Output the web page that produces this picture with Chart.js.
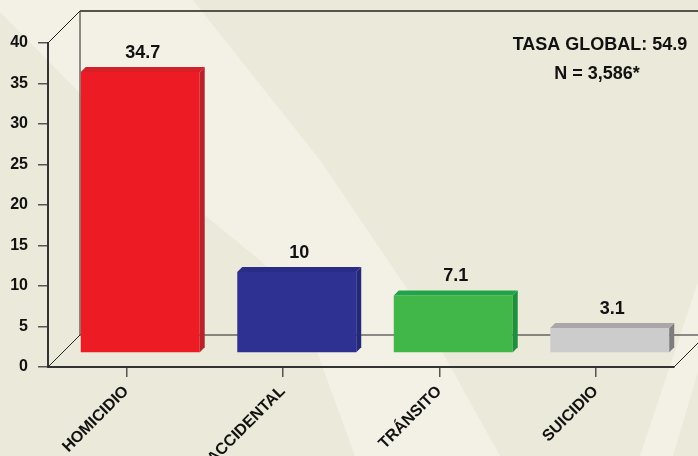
<!DOCTYPE html>
<html>
<head>
<meta charset="utf-8">
<script src="https://cdn.jsdelivr.net/npm/chart.js@4.4.0/dist/chart.umd.min.js"></script>
<style>
  html, body { margin: 0; padding: 0; background: #ebe9d9; }
  #wrap { width: 698px; height: 456px; }
</style>
</head>
<body>
<div id="wrap"><canvas id="barChart"></canvas></div>
<script>
// data
const categories = ['HOMICIDIO', 'ACCIDENTAL', 'TRÁNSITO', 'SUICIDIO'];
const rates = [34.7, 10, 7.1, 3.1];
const yMin = 0, yMax = 40, yStep = 5;
const noteLines = ['TASA GLOBAL: 54.9', 'N = 3,586*'];

// bar colours: front, side, top
const frontColors = ['#ed1c24', '#2e3192', '#41b649', '#cccccc'];
const sideColors = ['#b8232b', '#24287a', '#1f8f3c', '#7d7d7d'];
const topColors = ['#d42029', '#2a2d87', '#22a347', '#a8a8a8'];

const FONT = '"Liberation Sans", Arial, sans-serif';
const DEPTH = 32;      // depth of the 3d box
const SHIFT = 14;      // bars sit in the middle of the box
const BEVEL = 5;       // depth of each bar

const scenePlugin = {
  id: 'scene',
  beforeDraw(chart) {
    const ctx = chart.ctx;
    const w = chart.width, h = chart.height;
    ctx.save();
    ctx.fillStyle = '#ebe9d9';
    ctx.fillRect(0, 0, w, h);
    // light sweeping bands
    ctx.fillStyle = '#f3f1e6';
    ctx.beginPath();
    ctx.moveTo(0, 0);
    ctx.lineTo(193, 0);
    ctx.lineTo(320, 160);
    ctx.lineTo(408, 290);
    ctx.lineTo(500, 456);
    ctx.lineTo(355, 456);
    ctx.lineTo(300, 305);
    ctx.lineTo(262, 262);
    ctx.lineTo(180, 195);
    ctx.lineTo(0, 12);
    ctx.closePath();
    ctx.fill();
    ctx.beginPath();
    ctx.moveTo(640, 456);
    ctx.lineTo(698, 282);
    ctx.lineTo(698, 372);
    ctx.lineTo(673, 456);
    ctx.closePath();
    ctx.fill();
    ctx.restore();
  },
  beforeDatasetsDraw(chart) {
    const ctx = chart.ctx;
    const a = chart.chartArea;
    const w = chart.width;
    ctx.save();
    ctx.strokeStyle = '#222';
    ctx.lineWidth = 1;
    ctx.beginPath();
    ctx.moveTo(a.left, a.top); ctx.lineTo(a.left + DEPTH, a.top - DEPTH);
    ctx.moveTo(a.left, a.bottom); ctx.lineTo(a.left + DEPTH, a.bottom - DEPTH);
    ctx.moveTo(a.left + DEPTH, a.top - DEPTH); ctx.lineTo(a.left + DEPTH, a.bottom - DEPTH);
    ctx.moveTo(a.left + DEPTH, a.bottom - DEPTH); ctx.lineTo(w, a.bottom - DEPTH);
    ctx.moveTo(a.right, a.bottom); ctx.lineTo(a.right + DEPTH, a.bottom - DEPTH);
    ctx.stroke();
    ctx.strokeStyle = '#55554d';
    ctx.lineWidth = 2;
    ctx.beginPath();
    ctx.moveTo(a.left + DEPTH, a.top - DEPTH); ctx.lineTo(w, a.top - DEPTH);
    ctx.stroke();
    ctx.restore();
    // push bars back into the box
    ctx.save();
    ctx.translate(SHIFT, -SHIFT);
  },
  afterDatasetsDraw(chart) {
    const ctx = chart.ctx;
    ctx.restore();
    const meta = chart.getDatasetMeta(0);
    ctx.save();
    meta.data.forEach((bar, i) => {
      const l = bar.x - bar.width / 2 + SHIFT;
      const r = bar.x + bar.width / 2 + SHIFT;
      const t = bar.y - SHIFT;
      const b = bar.base - SHIFT;
      // side face
      ctx.fillStyle = sideColors[i];
      ctx.beginPath();
      ctx.moveTo(r, t); ctx.lineTo(r + BEVEL, t - BEVEL);
      ctx.lineTo(r + BEVEL, b - BEVEL); ctx.lineTo(r, b);
      ctx.closePath(); ctx.fill();
      // top face
      ctx.fillStyle = topColors[i];
      ctx.beginPath();
      ctx.moveTo(l, t); ctx.lineTo(l + BEVEL, t - BEVEL);
      ctx.lineTo(r + BEVEL, t - BEVEL); ctx.lineTo(r, t);
      ctx.closePath(); ctx.fill();
      // value label
      ctx.fillStyle = '#111';
      ctx.font = 'bold 18px ' + FONT;
      ctx.textAlign = 'center';
      ctx.textBaseline = 'alphabetic';
      ctx.fillText(String(rates[i]), (l + r + BEVEL) / 2, t - BEVEL - 9);
    });
    // note in the corner
    ctx.font = 'bold 18px ' + FONT;
    ctx.fillText(noteLines[0], 600, 50);
    ctx.fillText(noteLines[1], 597, 79);
    ctx.restore();
  }
};

const ctx = document.getElementById('barChart').getContext('2d');
new Chart(ctx, {
  type: 'bar',
  data: {
    labels: categories,
    datasets: [{
      data: rates,
      backgroundColor: frontColors,
      borderWidth: 0,
      categoryPercentage: 1,
      barPercentage: 0.76,
      clip: false
    }]
  },
  options: {
    responsive: true,
    maintainAspectRatio: false,
    animation: false,
    layout: { padding: { top: 43, right: 24, left: 0, bottom: 0 } },
    plugins: {
      legend: { display: false },
      tooltip: { enabled: false }
    },
    scales: {
      x: {
        afterFit(scale) { scale.height = 89; },
        grid: { offset: false, drawOnChartArea: false, tickLength: 10, color: '#555', lineWidth: 1.5 },
        border: { color: '#333', width: 2 },
        ticks: {
          autoSkip: false,
          minRotation: 45,
          maxRotation: 45,
          padding: 5,
          color: '#111',
          font: { family: FONT, size: 16, weight: 'bold' }
        }
      },
      y: {
        min: yMin,
        max: yMax,
        afterFit(scale) { scale.width = 48; },
        grid: { drawOnChartArea: false, tickLength: 10, color: '#555', lineWidth: 1.5 },
        border: { color: '#333', width: 2 },
        ticks: {
          stepSize: yStep,
          padding: 10,
          color: '#111',
          font: { family: FONT, size: 16, weight: 'bold' }
        }
      }
    }
  },
  plugins: [scenePlugin]
});
</script>
</body>
</html>
